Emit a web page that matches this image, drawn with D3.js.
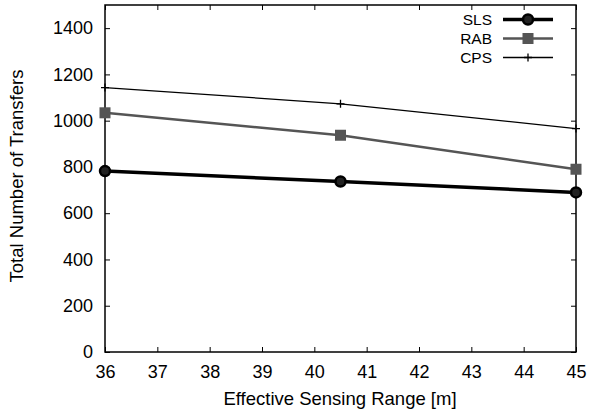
<!DOCTYPE html>
<html>
<head>
<meta charset="utf-8">
<script src="https://cdn.jsdelivr.net/npm/d3@7"></script>
<style>
  body { margin: 0; background: #fff; }
  text { font-family: "Liberation Sans", Arial, sans-serif; }
</style>
</head>
<body>
<div id="chart"></div>
<script>
// data
const ranges = [36, 40.5, 45];
const sls = [782, 737, 690];
const rab = [1034, 937, 790];
const cps = [1143, 1073, 966];
const xTicks = [36, 37, 38, 39, 40, 41, 42, 43, 44, 45];
const yTicks = [0, 200, 400, 600, 800, 1000, 1200, 1400];

const W = 589, H = 416;
const margin = { top: 5, right: 13, bottom: 64, left: 105 },
  width = W - margin.left - margin.right,
  height = H - margin.top - margin.bottom;

const svg = d3.select("#chart")
  .append("svg")
  .attr("width", W)
  .attr("height", H);

const g = svg.append("g")
  .attr("transform", `translate(${margin.left},${margin.top})`);

const x = d3.scaleLinear().domain([36, 45]).range([0, width]);
const y = d3.scaleLinear().domain([0, 1500]).range([height, 0]);

// axes with inward ticks, mirrored on top / right
const styleAxis = sel => {
  sel.select(".domain").remove();
  sel.selectAll("line").attr("stroke", "#000").attr("stroke-width", 1);
  sel.selectAll("text").attr("font-size", 18).attr("fill", "#000");
};

g.append("g")
  .attr("transform", `translate(0,${height})`)
  .call(d3.axisBottom(x).tickValues(xTicks).tickSize(-5).tickPadding(13).tickFormat(d3.format("d")))
  .call(styleAxis);

g.append("g")
  .call(d3.axisTop(x).tickValues(xTicks).tickSize(-5).tickFormat(""))
  .call(styleAxis);

g.append("g")
  .call(d3.axisLeft(y).tickValues(yTicks).tickSize(-5).tickPadding(12).tickFormat(d3.format("d")))
  .call(styleAxis);

g.append("g")
  .attr("transform", `translate(${width},0)`)
  .call(d3.axisRight(y).tickValues(yTicks).tickSize(-5).tickFormat(""))
  .call(styleAxis);

g.append("rect")
  .attr("width", width)
  .attr("height", height)
  .attr("fill", "none")
  .attr("stroke", "#000")
  .attr("stroke-width", 1.5);

// axis titles
svg.append("text")
  .attr("x", 340)
  .attr("y", 405)
  .attr("text-anchor", "middle")
  .attr("font-size", 18.5)
  .text("Effective Sensing Range [m]");

svg.append("text")
  .attr("transform", "translate(23,176) rotate(-90)")
  .attr("text-anchor", "middle")
  .attr("font-size", 18.5)
  .text("Total Number of Transfers");

const series = [
  { name: "SLS", values: sls, color: "#000", width: 3.5, marker: "circle" },
  { name: "RAB", values: rab, color: "#555", width: 2.5, marker: "square" },
  { name: "CPS", values: cps, color: "#000", width: 1.3, marker: "plus" }
];

const line = d3.line()
  .x((d, i) => x(ranges[i]))
  .y(d => y(d));

const drawMarker = (sel, s, px, py) => {
  if (s.marker === "circle") {
    sel.append("circle").attr("cx", px).attr("cy", py).attr("r", 5)
      .attr("fill", "#222").attr("stroke", "#000").attr("stroke-width", 2.5);
  } else if (s.marker === "square") {
    sel.append("rect").attr("x", px - 5.5).attr("y", py - 5.5)
      .attr("width", 11).attr("height", 11).attr("fill", s.color);
  } else {
    sel.append("path")
      .attr("d", `M${px - 4},${py}H${px + 4}M${px},${py - 4}V${py + 4}`)
      .attr("stroke", s.color).attr("stroke-width", 1.3);
  }
};

// draw in reverse so SLS is on top
series.slice().reverse().forEach(s => {
  g.append("path")
    .datum(s.values)
    .attr("d", line)
    .attr("fill", "none")
    .attr("stroke", s.color)
    .attr("stroke-width", s.width);
  s.values.forEach((v, i) => drawMarker(g, s, x(ranges[i]), y(v)));
});

// legend
const legend = svg.append("g");
series.forEach((s, i) => {
  const ly = 19.5 + i * 19;
  legend.append("text")
    .attr("x", 492)
    .attr("y", ly)
    .attr("dy", "0.35em")
    .attr("text-anchor", "end")
    .attr("font-size", 15.5)
    .text(s.name);
  legend.append("line")
    .attr("x1", 503).attr("x2", 553)
    .attr("y1", ly).attr("y2", ly)
    .attr("stroke", s.color)
    .attr("stroke-width", s.width);
  drawMarker(legend, s, 528, ly);
});
</script>
</body>
</html>
